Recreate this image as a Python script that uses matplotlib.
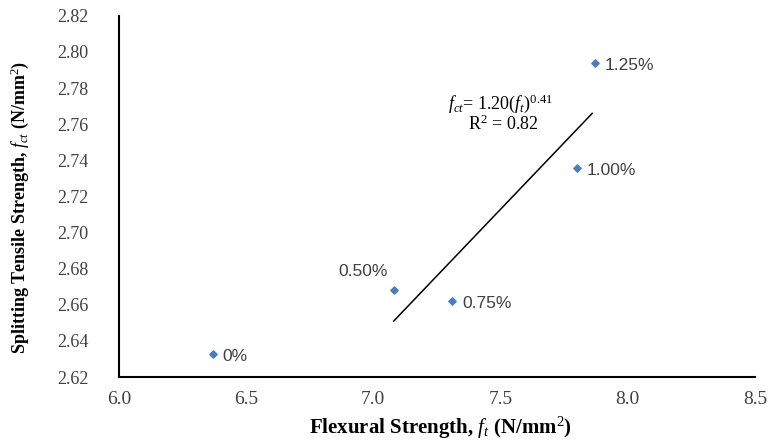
import matplotlib.pyplot as plt

# fibre content labels and measured strengths (N/mm2)
labels = ["0%", "0.50%", "0.75%", "1.00%", "1.25%"]
flexural = [6.37, 7.08, 7.31, 7.80, 7.87]
splitting = [2.633, 2.668, 2.662, 2.736, 2.794]

# power trendline as drawn in the source
trend_x = [7.08, 7.86]
trend_y = [2.651, 2.766]

xticks = [6.0, 6.5, 7.0, 7.5, 8.0, 8.5]
yticks = [2.62, 2.64, 2.66, 2.68, 2.70, 2.72, 2.74, 2.76, 2.78, 2.80, 2.82]

plt.rcParams['mathtext.fontset'] = 'custom'
plt.rcParams['mathtext.rm'] = 'Liberation Serif'
plt.rcParams['mathtext.it'] = 'Liberation Serif:italic'
plt.rcParams['mathtext.bf'] = 'Liberation Serif:bold:italic'

fig = plt.figure(figsize=(7.72, 4.41), dpi=100)
ax = fig.add_axes([0.154, 0.145, 0.824, 0.819])

ax.scatter(flexural, splitting, marker="D", s=14, color="#4a7ebb", zorder=3)
ax.plot(trend_x, trend_y, color="black", lw=1.1)

# data labels
offsets = {"0%": (7, -5), "0.50%": (-40, 10), "0.75%": (7, -5),
           "1.00%": (7, -5), "1.25%": (7, -5)}
for lab, x, y in zip(labels, flexural, splitting):
    ax.annotate(lab, (x, y), xytext=offsets[lab], textcoords="offset points",
                fontsize=12.5, color="#404040", family="Liberation Sans")

ax.text(7.50, 2.7715, r"$f_{ct}$= 1.20($f_t$)$^{0.41}$", fontsize=13,
        family="Liberation Serif", ha="center", va="center")
ax.text(7.51, 2.7600, r"R$^2$ = 0.82", fontsize=13,
        family="Liberation Serif", ha="center", va="center")

ax.set_xlim(6.0, 8.5)
ax.set_ylim(2.62, 2.82)
ax.set_xticks(xticks)
ax.set_yticks(yticks)
ax.set_xticklabels([f"{t:.1f}" for t in xticks])
ax.set_yticklabels([f"{t:.2f}" for t in yticks])
ax.tick_params(length=0, labelcolor="#404040")
ax.tick_params(axis="x", labelsize=14, pad=10)
ax.tick_params(axis="y", labelsize=13, pad=22)
for lab in ax.get_xticklabels() + ax.get_yticklabels():
    lab.set_family("Liberation Serif")

for side in ["top", "right"]:
    ax.spines[side].set_visible(False)
for side in ["left", "bottom"]:
    ax.spines[side].set_linewidth(1.5)

ax.set_xlabel(r"Flexural Strength, $f_t$ (N/mm$^2$)", fontsize=15,
              fontweight="bold", family="Liberation Serif")
ax.set_ylabel(r"Splitting Tensile Strength, $f_{ct}$ (N/mm$^2$)", fontsize=13,
              fontweight="bold", family="Liberation Serif")
ax.xaxis.set_label_coords(0.506, -0.105)
ax.yaxis.set_label_coords(-0.138, 0.47)

fig.savefig("out.png", dpi=100)
